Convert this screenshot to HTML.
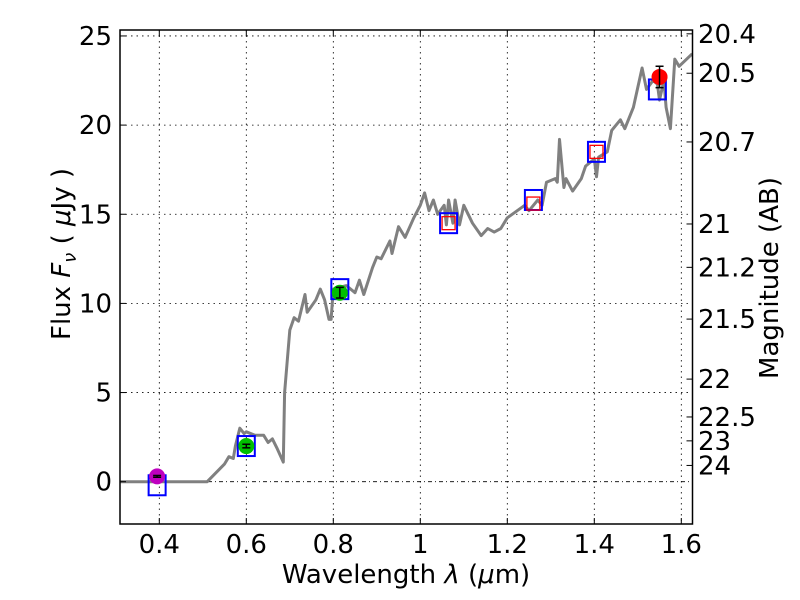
<!DOCTYPE html>
<html><head><meta charset="utf-8"><style>
body{margin:0;background:#fff}
svg{display:block;font-family:"DejaVu Sans","Liberation Sans",sans-serif}
</style></head><body>
<svg id="chart" width="800" height="600" xmlns="http://www.w3.org/2000/svg">
<rect width="800" height="600" fill="#fff"/>
<g id="grid"></g>
<g id="series"></g>
<rect x="120" y="30" width="572.5" height="494" fill="none" stroke="#000" stroke-width="1.5"/>
<g id="axes"></g>
<text x="406" y="583" font-size="26" text-anchor="middle">Wavelength  <tspan font-style="italic">λ</tspan> (<tspan font-style="italic">μ</tspan>m)</text>
<text transform="translate(70,254) rotate(-90)" font-size="26" text-anchor="middle">Flux  <tspan font-style="italic">F</tspan><tspan font-style="italic" font-size="18" dy="6">ν</tspan><tspan dy="-6">  ( </tspan><tspan font-style="italic">μ</tspan>Jy )</text>
<text transform="translate(778,278) rotate(-90)" font-size="26" text-anchor="middle">Magnitude (AB)</text>
</svg>
<script>
const xTicks=[0.4,0.6,0.8,1.0,1.2,1.4,1.6];
const xTickLabels=["0.4","0.6","0.8","1","1.2","1.4","1.6"];
const yTicks=[0,5,10,15,20,25];
const magTicks=[20.4,20.5,20.7,21,21.2,21.5,22,22.5,23,24];
const magLabels=["20.4","20.5","20.7","21","21.2","21.5","22","22.5","23","24"];
const specWave=[0.31,0.51,0.53,0.55,0.56,0.57,0.575,0.585,0.595,0.6,0.62,0.64,0.65,0.66,0.67,0.685,0.688,0.7,0.71,0.72,0.735,0.74,0.76,0.77,0.78,0.79,0.795,0.8,0.83,0.85,0.86,0.87,0.89,0.9,0.91,0.93,0.935,0.95,0.965,0.985,1.0,1.01,1.02,1.03,1.04,1.055,1.06,1.065,1.075,1.08,1.09,1.1,1.12,1.14,1.155,1.17,1.185,1.2,1.24,1.25,1.27,1.28,1.29,1.31,1.315,1.32,1.33,1.335,1.35,1.37,1.38,1.4,1.405,1.41,1.43,1.44,1.46,1.47,1.49,1.51,1.52,1.535,1.545,1.55,1.56,1.565,1.575,1.585,1.595,1.625];
const specFlux=[0,0,0.5,1.0,1.4,1.3,2.0,3.0,2.7,2.8,2.6,2.6,2.2,2.4,1.9,1.1,5.0,8.5,9.2,9.0,10.5,9.5,10.2,10.8,10.2,9.1,9.1,10.8,11.0,10.6,11.3,10.5,12.0,12.6,12.5,13.5,12.8,14.3,13.7,14.8,15.5,16.2,15.2,15.8,15.0,15.5,14.4,15.8,14.5,15.8,14.4,15.5,14.5,13.8,14.2,14.0,14.2,14.8,15.5,15.2,15.8,15.5,16.8,17.0,16.8,19.2,16.5,17.0,16.3,17.0,17.7,18.1,17.1,18.2,18.5,19.7,20.3,19.8,21.0,23.2,22.0,22.5,22.3,21.4,22.5,21.0,19.8,23.7,23.3,24.0];
const modelWave=[0.395,0.6,0.815,1.065,1.26,1.405,1.545];
const modelFlux=[-0.2,2.0,10.8,14.5,15.8,18.5,22.0];
const redWave=[1.065,1.26,1.405];
const redFlux=[14.5,15.6,18.5];
const obsWave=[0.395,0.6,0.815,1.55];
const obsFlux=[0.3,2.0,10.6,22.7];
const obsErr=[0.05,0.1,0.3,0.6];
const obsColor=["#bf00bf","#00bf00","#00bf00","#ff0000"];

const X=v=>159.3+(v-0.4)*435;
const Y=v=>481.7-v*17.83;
const NS="http://www.w3.org/2000/svg";
function mk(tag,attrs,parent){const e=document.createElementNS(NS,tag);for(const k in attrs)e.setAttribute(k,attrs[k]);parent.appendChild(e);return e;}
const grid=document.getElementById('grid'),axes=document.getElementById('axes'),series=document.getElementById('series');

xTicks.forEach((t,i)=>{
 const gl=mk('line',{x1:X(t),x2:X(t),y1:30,y2:524,stroke:'#000','stroke-width':0.8,'stroke-dasharray':'1.5,4'},grid);
 
 
 mk('line',{x1:X(t),x2:X(t),y1:524,y2:518,stroke:'#000'},axes);
 mk('line',{x1:X(t),x2:X(t),y1:30,y2:36,stroke:'#000'},axes);
 const tx=mk('text',{x:X(t),y:553,'font-size':26,'text-anchor':'middle'},axes);
 tx.textContent=xTickLabels[i];
 
 
});
yTicks.forEach(t=>{
 const gl=mk('line',{x1:120,x2:692.5,y1:Y(t),y2:Y(t),stroke:'#000','stroke-width':0.8,'stroke-dasharray':t===0?'4,3,1,3':'1.5,4'},grid);
 
 
 mk('line',{x1:120,x2:126,y1:Y(t),y2:Y(t),stroke:'#000'},axes);
 const tx=mk('text',{x:112,y:Y(t)+9,'font-size':26,'text-anchor':'end'},axes);
 tx.textContent=String(t);
 
 
});
magTicks.forEach((m,i)=>{
 const f=Math.pow(10,(23.9-m)/2.5);
 mk('line',{x1:692.5,x2:686.5,y1:Y(f),y2:Y(f),stroke:'#000'},axes);
 const tx=mk('text',{x:698,y:Y(f)+9,'font-size':26},axes);
 tx.textContent=magLabels[i];
 
 
});
const pts=specWave.map((w,i)=>X(w).toFixed(1)+','+Y(specFlux[i]).toFixed(1)).join(' ');
const sp=mk('polyline',{points:pts,fill:'none',stroke:'#808080','stroke-width':3,'stroke-linejoin':'round'},series);


modelWave.forEach((w,i)=>{
 const r=mk('rect',{x:X(w)-8.5,y:Y(modelFlux[i])-10,width:17,height:20,fill:'none',stroke:'#0000ff','stroke-width':2},series);
 
 
});
redWave.forEach((w,i)=>{
 const r=mk('rect',{x:X(w)-6.5,y:Y(redFlux[i])-6.5,width:13,height:13,fill:'none',stroke:'#ff0000','stroke-width':1.3},series);
 
 
});
obsWave.forEach((w,i)=>{
 const c=mk('circle',{cx:X(w),cy:Y(obsFlux[i]),r:8,fill:obsColor[i]},series);
 
 
 const y1=Y(obsFlux[i]+obsErr[i]),y2=Y(obsFlux[i]-obsErr[i]);
 mk('line',{x1:X(w),x2:X(w),y1:y1,y2:y2,stroke:'#000','stroke-width':1.5},series);
 mk('line',{x1:X(w)-4,x2:X(w)+4,y1:y1,y2:y1,stroke:'#000','stroke-width':1.5},series);
 mk('line',{x1:X(w)-4,x2:X(w)+4,y1:y2,y2:y2,stroke:'#000','stroke-width':1.5},series);
});
</script>
</body></html>
